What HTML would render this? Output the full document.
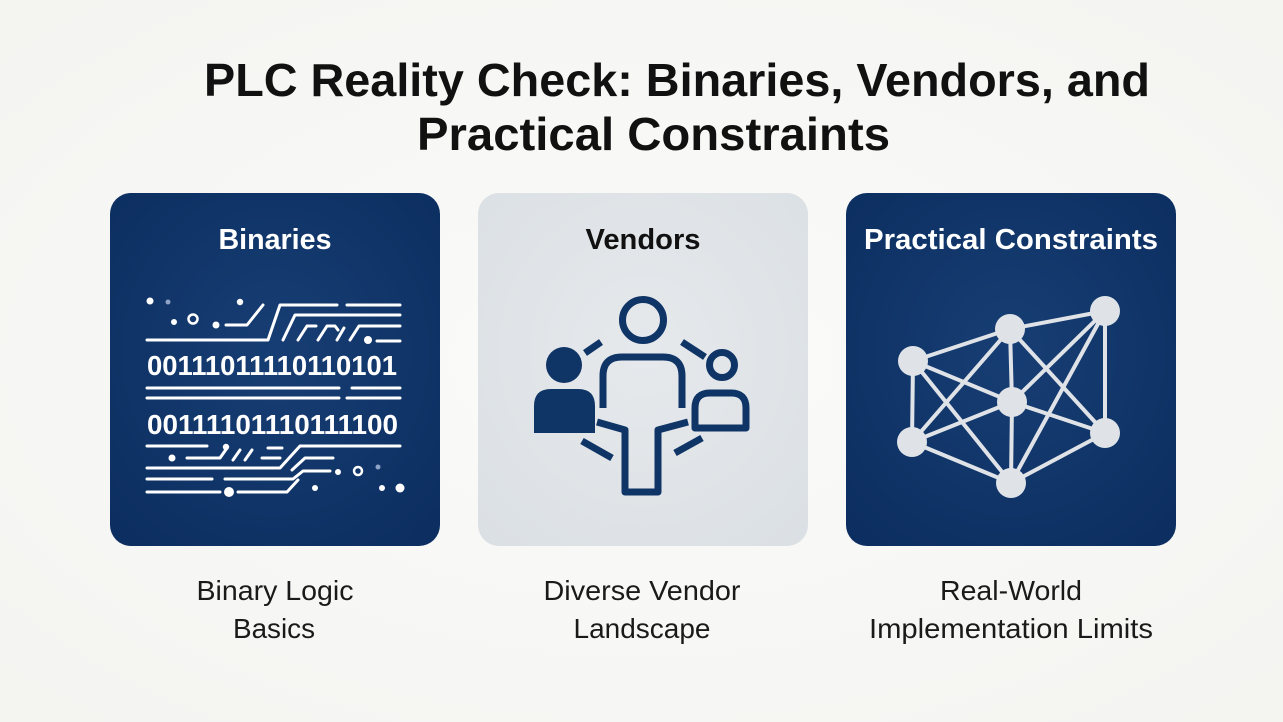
<!DOCTYPE html>
<html>
<head>
<meta charset="utf-8">
<style>
  html,body{margin:0;padding:0;background:#f8f8f6;}
  body{width:1283px;height:722px;overflow:hidden;}
  svg{display:block;}
</style>
</head>
<body>
<svg width="1283" height="722" viewBox="0 0 1283 722" xmlns="http://www.w3.org/2000/svg">
  <defs>
    <radialGradient id="navy" cx="50%" cy="45%" r="70%">
      <stop offset="0%" stop-color="#173e74"/>
      <stop offset="100%" stop-color="#0c2e60"/>
    </radialGradient>
    <radialGradient id="gray" cx="50%" cy="45%" r="70%">
      <stop offset="0%" stop-color="#e6e9ec"/>
      <stop offset="100%" stop-color="#dbe0e4"/>
    </radialGradient>
    <radialGradient id="bg" cx="50%" cy="50%" r="75%">
      <stop offset="0%" stop-color="#fbfbfa"/>
      <stop offset="100%" stop-color="#f3f3f0"/>
    </radialGradient>
  </defs>

  <rect x="0" y="0" width="1283" height="722" fill="url(#bg)"/>

  <!-- Title -->
  <g font-family="'Liberation Sans', Arial, sans-serif" font-weight="bold" font-size="46" fill="#111">
    <text x="204" y="96" textLength="946" lengthAdjust="spacingAndGlyphs">PLC Reality Check: Binaries, Vendors, and</text>
    <text x="417" y="150" textLength="473" lengthAdjust="spacingAndGlyphs">Practical Constraints</text>
  </g>

  <!-- Panels -->
  <rect x="110" y="193" width="330" height="353" rx="21" fill="url(#navy)"/>
  <rect x="478" y="193" width="330" height="353" rx="21" fill="url(#gray)"/>
  <rect x="846" y="193" width="330" height="353" rx="21" fill="url(#navy)"/>

  <!-- Panel titles -->
  <g font-family="'Liberation Sans', Arial, sans-serif" font-weight="bold" font-size="29" text-anchor="middle">
    <text x="275" y="249" fill="#ffffff" textLength="113" lengthAdjust="spacingAndGlyphs">Binaries</text>
    <text x="643" y="249" fill="#111111" textLength="115" lengthAdjust="spacingAndGlyphs">Vendors</text>
    <text x="1011" y="249" fill="#ffffff" textLength="294" lengthAdjust="spacingAndGlyphs">Practical Constraints</text>
  </g>

  <!-- Binaries icon -->
  <g stroke="#ffffff" stroke-width="3" fill="none" stroke-linecap="round" stroke-linejoin="round">
    <path d="M147,340 L268,340 L280,305 L337,305"/>
    <path d="M347,305 L400,305"/>
    <path d="M226,325 L247,325 L263,305"/>
    <path d="M283,340 L295,315 L400,315"/>
    <path d="M298,340 L307,326 L316,326"/>
    <path d="M318,340 L327,326 L335,326 L338,330"/>
    <path d="M337,340 L344,328"/>
    <path d="M350,340 L359,326 L400,326"/>
    <path d="M377,341 L400,341"/>
    <path d="M147,388 L339,388"/>
    <path d="M352,388 L400,388"/>
    <path d="M147,398 L339,398"/>
    <path d="M347,398 L400,398"/>
    <path d="M147,446 L207,446"/>
    <path d="M187,458 L220,458 L227,448"/>
    <path d="M233,460 L240,450"/>
    <path d="M245,460 L252,450"/>
    <path d="M262,458 L280,458"/>
    <path d="M268,448 L282,448"/>
    <path d="M147,468 L280,468 L300,446 L400,446"/>
    <path d="M292,470 L305,458 L333,458"/>
    <path d="M147,479 L212,479"/>
    <path d="M225,479 L293,479 L303,471 L330,471"/>
    <path d="M147,492 L220,492"/>
    <path d="M238,492 L287,492 L298,480"/>
    <circle cx="358" cy="471" r="4" stroke-width="2.5"/>
    <circle cx="193" cy="319" r="4.5" stroke-width="2.5"/>
  </g>
  <g fill="#ffffff">
    <circle cx="150" cy="301" r="3.5"/>
    <circle cx="168" cy="302" r="2.5" fill="#8ea3c6"/>
    <circle cx="240" cy="302" r="3.2"/>
    <circle cx="174" cy="322" r="3"/>
    <circle cx="216" cy="325" r="3.5"/>
    <circle cx="368" cy="340" r="4"/>
    <circle cx="172" cy="458" r="3.5"/>
    <circle cx="226" cy="447" r="3.2"/>
    <circle cx="338" cy="472" r="3"/>
    <circle cx="378" cy="467" r="2.5" fill="#8ea3c6"/>
    <circle cx="229" cy="492" r="5"/>
    <circle cx="315" cy="488" r="3"/>
    <circle cx="382" cy="488" r="3"/>
    <circle cx="400" cy="488" r="4.5"/>
  </g>
  <g font-family="'Liberation Sans', Arial, sans-serif" font-weight="bold" font-size="28" fill="#ffffff">
    <text x="147" y="375" textLength="250" lengthAdjust="spacingAndGlyphs">00111011110110101</text>
    <text x="147" y="434" textLength="251" lengthAdjust="spacingAndGlyphs">00111101110111100</text>
  </g>

  <!-- Vendors icon -->
  <g stroke="#0f3466" stroke-width="7" fill="none" stroke-linejoin="round">
    <circle cx="643" cy="320" r="20.5"/>
    <path d="M603,408 L603,376 Q603,357 622,357 L663,357 Q682,357 682,376 L682,408"/>
    <path d="M597,422 L625,430 L625,492 L658,492 L658,430 L688,422"/>
    <line x1="585" y1="353" x2="601" y2="342"/>
    <line x1="682" y1="342" x2="705" y2="357"/>
    <line x1="582" y1="441" x2="612" y2="458"/>
    <line x1="675" y1="453" x2="702" y2="438"/>
    <circle cx="722" cy="365" r="12.5"/>
    <path d="M695,428 L695,408 Q695,393 710,393 L731,393 Q746,393 746,408 L746,428 Z"/>
  </g>
  <g fill="#0f3466">
    <circle cx="564" cy="365" r="18"/>
    <path d="M534,433 L534,406 Q534,389 551,389 L578,389 Q595,389 595,406 L595,433 Z"/>
  </g>

  <!-- Network icon -->
  <g stroke="#dfe3e8" stroke-width="4" stroke-linecap="round">
    <line x1="913" y1="361" x2="1010" y2="329"/>
    <line x1="1010" y1="329" x2="1105" y2="311"/>
    <line x1="913" y1="361" x2="912" y2="442"/>
    <line x1="1105" y1="311" x2="1105" y2="433"/>
    <line x1="913" y1="361" x2="1012" y2="402"/>
    <line x1="913" y1="361" x2="1011" y2="483"/>
    <line x1="1010" y1="329" x2="912" y2="442"/>
    <line x1="1010" y1="329" x2="1012" y2="402"/>
    <line x1="1010" y1="329" x2="1105" y2="433"/>
    <line x1="1105" y1="311" x2="1012" y2="402"/>
    <line x1="1105" y1="311" x2="1011" y2="483"/>
    <line x1="1012" y1="402" x2="912" y2="442"/>
    <line x1="1012" y1="402" x2="1105" y2="433"/>
    <line x1="1012" y1="402" x2="1011" y2="483"/>
    <line x1="912" y1="442" x2="1011" y2="483"/>
    <line x1="1105" y1="433" x2="1011" y2="483"/>
  </g>
  <g fill="#dfe3e8">
    <circle cx="913" cy="361" r="15"/>
    <circle cx="1010" cy="329" r="15"/>
    <circle cx="1105" cy="311" r="15"/>
    <circle cx="1012" cy="402" r="15"/>
    <circle cx="912" cy="442" r="15"/>
    <circle cx="1105" cy="433" r="15"/>
    <circle cx="1011" cy="483" r="15"/>
  </g>

  <!-- Captions -->
  <g font-family="'Liberation Sans', Arial, sans-serif" font-size="28" fill="#1a1a1a" text-anchor="middle">
    <text x="275" y="600" textLength="157" lengthAdjust="spacingAndGlyphs">Binary Logic</text>
    <text x="274" y="638" textLength="82" lengthAdjust="spacingAndGlyphs">Basics</text>
    <text x="642" y="600" textLength="197" lengthAdjust="spacingAndGlyphs">Diverse Vendor</text>
    <text x="642" y="638" textLength="137" lengthAdjust="spacingAndGlyphs">Landscape</text>
    <text x="1011" y="600" textLength="142" lengthAdjust="spacingAndGlyphs">Real-World</text>
    <text x="1011" y="638" textLength="284" lengthAdjust="spacingAndGlyphs">Implementation Limits</text>
  </g>
</svg>
</body>
</html>
